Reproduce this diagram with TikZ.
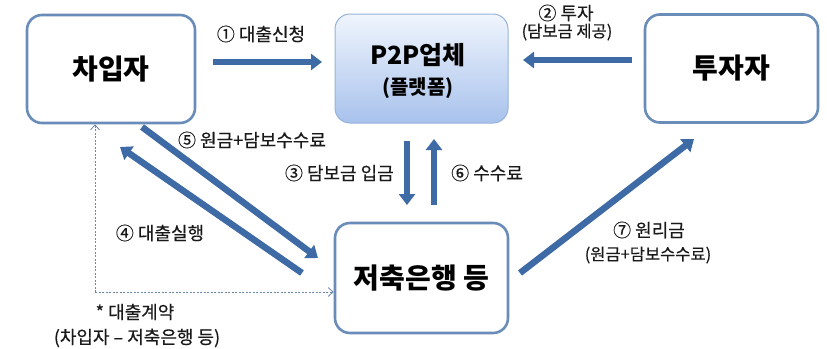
\documentclass[tikz,border=0pt]{standalone}
\usepackage{fontspec}
\newfontfamily\kr{Noto Sans CJK KR}
\newfontfamily\krm[FakeBold=0.4]{Noto Sans CJK KR}
\usetikzlibrary{arrows.meta,calc}
\definecolor{boxline}{RGB}{105,140,185}
\definecolor{arrblue}{RGB}{62,106,165}
\definecolor{dashblue}{RGB}{110,135,175}
\definecolor{ptop}{RGB}{240,245,253}
\definecolor{pbot}{RGB}{168,194,236}
\definecolor{pline}{RGB}{150,178,220}
\definecolor{txt}{RGB}{25,25,25}
\begin{document}
\begin{tikzpicture}[x=1pt,y=-1pt,
  actor/.style={draw=boxline,line width=2.6pt,rounded corners=15pt,minimum width=168pt,minimum height=108pt,inner sep=0pt,align=center,font=\kr\bfseries\fontsize{28}{30}\selectfont},
  plat/.style={draw=pline,line width=1pt,rounded corners=15pt,minimum width=173pt,minimum height=109pt,inner sep=0pt,top color=ptop,bottom color=pbot},
  bigarrow/.style={draw=arrblue,line width=6.5pt,-{Triangle[length=11pt,width=16pt]}},
  lbl/.style={font=\krm\fontsize{18}{20}\selectfont,inner sep=0pt,text=txt},
  sublbl/.style={font=\krm\fontsize{16.5}{18}\selectfont,inner sep=0pt,text=txt},
  contract/.style={draw=dashblue,line width=0.8pt,dash pattern=on 2pt off 1.5pt,-{Straight Barb[length=5pt,width=9pt]}}]
\useasboundingbox (0,0) rectangle (827,348);
% boxes
\node[actor,minimum width=168pt] (B) at (111,69) {차입자};
\node[plat] (P) at (421.5,68.5) {};
\node[font=\kr\bfseries\fontsize{25}{28}\selectfont,inner sep=0pt] (Pt) at (418,55) {P2P업체};
\node[font=\kr\bfseries\fontsize{20}{22}\selectfont,inner sep=0pt] (Ps) at (418,88) {(플랫폼)};
\node[actor,minimum width=173pt] (I) at (731.5,68.5) {투자자};
\node[actor,minimum width=173pt,minimum height=110pt] (S) at (421.5,278) {저축은행 등};
% arrow end points
\coordinate (a1s) at (213,62); \coordinate (a1e) at (322,62);
\coordinate (a2s) at (632,60); \coordinate (a2e) at (523,60);
\coordinate (a3s) at (407,141); \coordinate (a3e) at (407,205);
\coordinate (a6s) at (434,205); \coordinate (a6e) at (434,139);
\coordinate (a5s) at (142,127); \coordinate (a5e) at (318,258);
\coordinate (a4s) at (302,273); \coordinate (a4e) at (120,147);
\coordinate (a7s) at (520,273); \coordinate (a7e) at (694,139);
\draw[bigarrow] (a1s) -- (a1e);
\draw[bigarrow] (a2s) -- (a2e);
\draw[bigarrow] (a3s) -- (a3e);
\draw[bigarrow] (a6s) -- (a6e);
\draw[bigarrow] (a5s) -- (a5e);
\draw[bigarrow] (a4s) -- (a4e);
\draw[bigarrow] (a7s) -- (a7e);
% dashed contract line
\coordinate (dc) at (95,292);
\draw[contract] (dc) -- (B.south -| dc);
\draw[contract] (dc) -- (S.west |- dc);
% labels
\node[lbl] (l1) at (261,34) {① 대출신청};
\node[lbl] (l2) at (566,13) {② 투자};
\node[sublbl] (l2b) at (567,32) {(담보금 제공)};
\node[lbl,anchor=east] (l3) at (394,173) {③ 담보금 입금};
\node[lbl,anchor=west] (l6) at (451,173) {⑥ 수수료};
\node[lbl] (l5) at (252,140) {⑤ 원금+담보수수료};
\node[lbl] (l4) at (160,233) {④ 대출실행};
\node[lbl] (l7) at (649,230) {⑦ 원리금};
\node[sublbl] (l7b) at (648,255) {(원금+담보수수료)};
\node[lbl] (lc) at (135,312) {* 대출계약};
\node[lbl] (lc2) at (137,338) {(차입자 – 저축은행 등)};
\end{tikzpicture}
\end{document}
